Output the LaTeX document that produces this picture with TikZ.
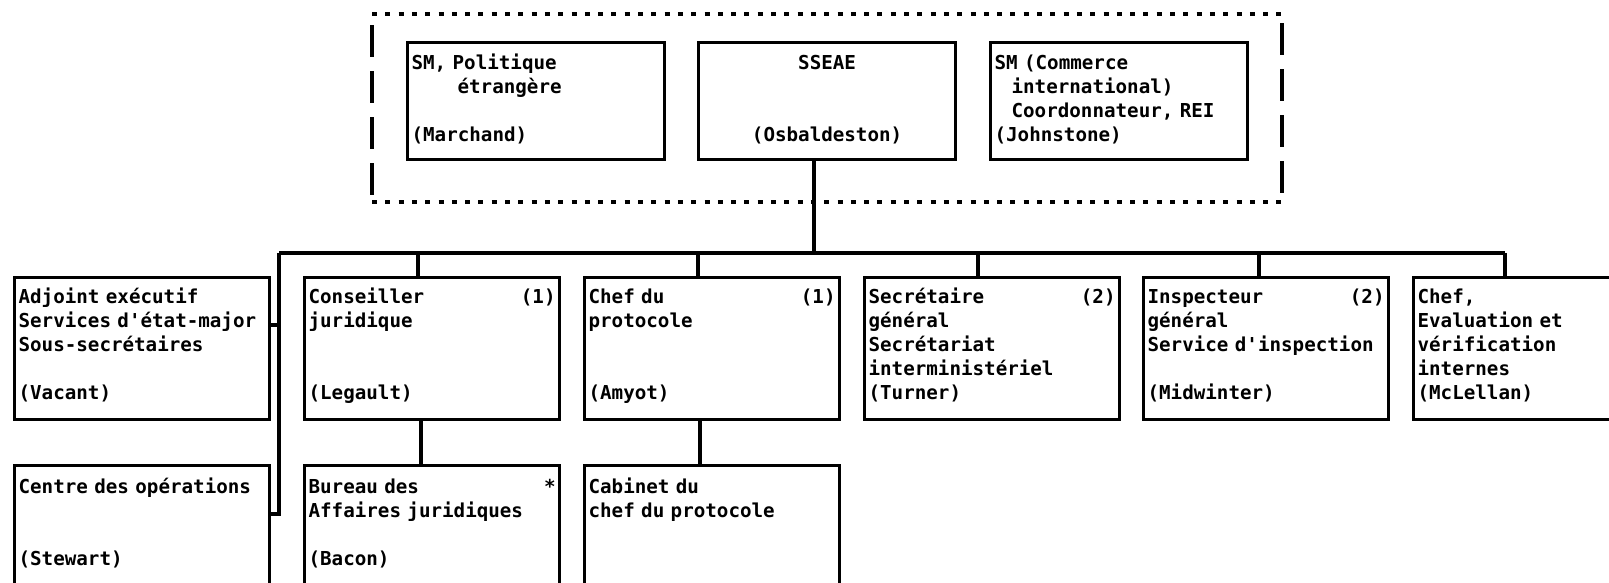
\documentclass[tikz,border=0pt]{standalone}
\usepackage{fontspec}
\usepackage{tikz}
\newfontfamily\orgfont{DejaVu Sans Mono}[WordSpace={1,0,0}]

\tikzset{
  unit/.style={draw, line width=3.2pt, inner xsep=4pt, inner ysep=0pt, text width=247pt, align=left, anchor=north west, font=\orgfont\bfseries\fontsize{19.2}{24}\selectfont},
  toprow/.style={unit, text width=249pt, text height=27pt, text depth=90pt},
  midrow/.style={unit, text height=26pt, text depth=116pt},
  lowrow/.style={unit, text height=28pt, text depth=114pt},
  link/.style={line width=3.2pt},
  frameh/.style={line width=3.2pt, dash pattern=on 5pt off 8.3pt},
  framev/.style={line width=3.2pt, dash pattern=on 32pt off 14pt}
}

\begin{document}
\begin{tikzpicture}[x=1pt, y=-1pt]
\useasboundingbox (0,0) rectangle (1609,582);
\clip (0,0) rectangle (1609,582);

\draw[frameh] (372,14)--(1282,14);
\draw[frameh] (372,202)--(1282,202);
\draw[framev] (372,25)--(372,197);
\draw[framev] (1282,23)--(1282,193);

\node[toprow] (marchand) at (406,41) {SM, Politique\\\hspace*{46pt}étrangère\\[24pt](Marchand)};
\node[toprow, align=center] (sseae) at (697,41) {SSEAE\\[48pt](Osbaldeston)};
\node[toprow] (johnstone) at (989,41) {SM (Commerce\\\hspace*{17pt}international)\\\hspace*{17pt}Coordonnateur, REI\\(Johnstone)};

\node[midrow] (adjoint) at (13,276) {Adjoint exécutif\\Services d'état-major\\Sous-secrétaires\\[24pt](Vacant)};
\node[midrow] (conseiller) at (303,276) {Conseiller\hfill(1)\\juridique\\[48pt](Legault)};
\node[midrow] (protocole) at (583,276) {Chef du\hfill(1)\\protocole\\[48pt](Amyot)};
\node[midrow] (secretaire) at (863,276) {Secrétaire\hfill(2)\\général\\Secrétariat\\interministériel\\(Turner)};
\node[midrow, text width=237pt] (inspecteur) at (1142,276) {Inspecteur\hfill(2)\\général\\Service d'inspection\\[24pt](Midwinter)};
\node[midrow, text width=237pt] (evaluation) at (1412,276) {Chef,\\Evaluation et\\vérification\\internes\\(McLellan)};

\node[lowrow] (operations) at (13,464) {Centre des opérations\\[48pt](Stewart)};
\node[lowrow] (bureau) at (303,464) {Bureau des\hfill*\\Affaires juridiques\\[24pt](Bacon)};
\node[lowrow] (cabinet) at (583,464) {Cabinet du\\chef du protocole};

\coordinate (bus-l) at (279,253);
\coordinate (bus-r) at (1505,253);

\draw[link] (bus-l)--(bus-r);
\draw[link] (sseae.south -| 814,0)--(bus-l -| 814,0);
\foreach \n/\x in {conseiller/418, protocole/698, secretaire/978, inspecteur/1259, evaluation/1505}
  \draw[link] (bus-l -| \x,0)--(\n.north -| \x,0);

\draw[link] (bus-l)--(bus-l |- 0,514)--(operations.east |- 0,514);
\draw[link] (adjoint.east |- 0,325)--(bus-l |- 0,325);

\draw[link] (conseiller.south -| 421,0)--(bureau.north -| 421,0);
\draw[link] (protocole.south -| 700,0)--(cabinet.north -| 700,0);

\end{tikzpicture}
\end{document}
